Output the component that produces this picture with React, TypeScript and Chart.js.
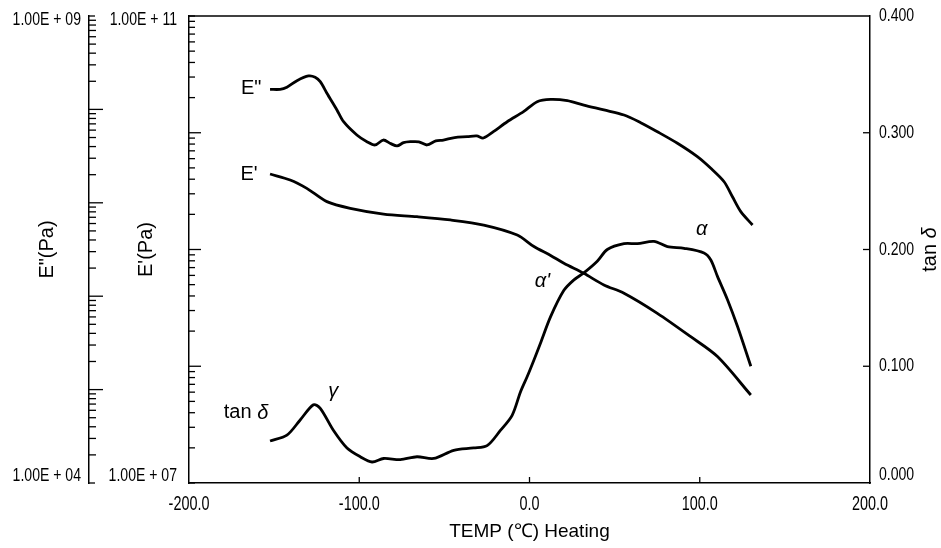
import React, { useEffect, useRef } from "react";
import { Chart, registerables } from "chart.js";

Chart.register(...registerables);

// ---- axis ticks ----
const tempTicks = [-200, -100, 0, 100, 200];
const tanTicks = [0, 0.1, 0.2, 0.3, 0.4];
const ePrimeDecades = [1e7, 1e8, 1e9, 1e10, 1e11];
const eDoubleDecades = [1e4, 1e5, 1e6, 1e7, 1e8, 1e9];

// ---- E'' (loss modulus, Pa) ----
const eDoubleTemp = [
  -152.4, -146.5, -142.5, -136.6, -129.8, -125.9, -122.9, -119.0, -113.1, -109.2,
  -101.4, -95.5, -90.6, -85.9, -81.5, -77.8, -74.0, -70.0, -65.0, -60.2,
  -55.0, -50.6, -44.0, -36.6, -31.0, -27.1, -21.2, -13.1, -3.5, 4.5,
  12.4, 22.2, 31.9, 43.7, 55.5, 65.3, 75.1, 86.9, 98.6, 106.5,
  114.3, 119.2, 124.1, 131.0,
];
const eDoubleVal = [
  1.64e8, 1.64e8, 1.73e8, 2.03e8, 2.28e8, 2.21e8, 1.98e8, 1.49e8, 9.86e7, 7.38e7,
  5.32e7, 4.51e7, 4.16e7, 4.7e7, 4.3e7, 4.06e7, 4.4e7, 4.51e7, 4.5e7, 4.16e7,
  4.6e7, 4.7e7, 5.0e7, 5.1e7, 5.2e7, 4.94e7, 5.77e7, 7.38e7, 9.45e7, 1.21e8,
  1.28e8, 1.24e8, 1.11e8, 9.86e7, 8.71e7, 7.21e7, 5.77e7, 4.34e7, 3.12e7, 2.34e7,
  1.68e7, 1.16e7, 8.04e6, 5.78e6,
];

// ---- E' (storage modulus, Pa) ----
const ePrimeTemp = [
  -152.4, -140.6, -130.8, -119.0, -105.3, -85.7, -66.1, -46.5, -26.9, -7.2,
  2.6, 12.4, 20.2, 31.9, 43.7, 55.5, 75.1, 94.7, 110.4, 130.0,
];
const ePrimeVal = [
  4.43e9, 3.94e9, 3.34e9, 2.57e9, 2.25e9, 2.01e9, 1.91e9, 1.79e9, 1.62e9, 1.33e9,
  1.06e9, 8.9e8, 7.62e8, 6.25e8, 4.97e8, 4.22e8, 2.84e8, 1.79e8, 1.21e8, 5.67e7,
];

// ---- tan delta ----
const tanTemp = [
  -152.4, -142.5, -134.7, -126.9, -122.9, -115.1, -107.2, -99.4, -92.5, -85.7,
  -75.9, -66.1, -56.3, -44.5, -32.8, -24.9, -17.1, -10.2, -5.3, -1.4,
  2.5, 6.5, 12.4, 20.2, 26.1, 31.9, 39.8, 45.7, 55.5, 63.4,
  73.1, 81.0, 90.8, 102.5, 106.5, 110.4, 116.3, 122.2, 130.0,
];
const tanVal = [
  0.036, 0.041, 0.054, 0.067, 0.064, 0.045, 0.03, 0.0225, 0.018, 0.021,
  0.02, 0.0225, 0.021, 0.028, 0.03, 0.032, 0.045, 0.058, 0.078, 0.091,
  0.105, 0.12, 0.1425, 0.165, 0.174, 0.18, 0.19, 0.2, 0.205, 0.205,
  0.207, 0.2025, 0.201, 0.197, 0.191, 0.177, 0.157, 0.134, 0.1,
];

// ---- curve labels (data coordinates) ----
const curveLabels = [
  { text: 'E"', t: -163.5, axis: "yE2", v: 1.69e8, italic: false },
  { text: "E'", t: -164.7, axis: "yE1", v: 4.4e9, italic: false },
  { text: "γ", t: -115.3, axis: "yT", v: 0.078, italic: true },
  { text: "α", t: 101.2, axis: "yT", v: 0.217, italic: true },
  { text: "α'", t: 7.6, axis: "yT", v: 0.173, italic: true },
];
const tanLabel = { t: -166.5, v: 0.06 };

const SANS = "'Liberation Sans', Arial, sans-serif";
const INK = "#000";

const pts = (t: number[], v: number[]) => t.map((x, i) => ({ x, y: v[i] }));
const fmtE = (v: number) => {
  const e = Math.round(Math.log10(v));
  return `1.00E + ${String(e).padStart(2, "0")}`;
};

const decorPlugin = {
  id: "decor",
  afterDraw(chart: any) {
    const { ctx, chartArea: a, scales } = chart;
    const { x, yE1, yE2, yT } = scales;
    const line = (x1: number, y1: number, x2: number, y2: number) => {
      ctx.beginPath();
      ctx.moveTo(x1, y1);
      ctx.lineTo(x2, y2);
      ctx.stroke();
    };
    // condensed tick text
    const ctext = (s: string, px: number, py: number, align: string, size: number, sx: number) => {
      ctx.save();
      ctx.translate(px, py);
      ctx.scale(sx, 1);
      ctx.font = `${size}px ${SANS}`;
      ctx.textAlign = align;
      ctx.textBaseline = "middle";
      ctx.fillText(s, 0, 0);
      ctx.restore();
    };
    ctx.save();
    ctx.strokeStyle = INK;
    ctx.fillStyle = INK;
    ctx.lineWidth = 1.3;
    // top frame
    line(a.left, a.top, a.right, a.top);
    // inward x ticks
    tempTicks.slice(1, -1).forEach((v) => {
      const px = x.getPixelForValue(v);
      line(px, a.bottom, px, a.bottom - 6);
    });
    // inward right ticks
    tanTicks.slice(1, -1).forEach((v) => {
      const py = yT.getPixelForValue(v);
      line(a.right, py, a.right - 7, py);
    });
    // log ticks
    const logTicks = (scale: any, decades: number[], major: number, minor: number) => {
      const x0 = scale.right;
      decades.forEach((d, i) => {
        const py = scale.getPixelForValue(d);
        const len = i === 0 || i === decades.length - 1 ? 6 : major;
        line(x0, py, x0 + len, py);
        if (i < decades.length - 1) {
          for (let k = 2; k <= 9; k++) {
            const pk = scale.getPixelForValue(d * k);
            line(x0, pk, x0 + minor, pk);
          }
        }
      });
    };
    logTicks(yE1, ePrimeDecades, 12, 6);
    logTicks(yE2, eDoubleDecades, 14, 7);

    // tick labels
    tempTicks.forEach((v) => {
      ctext(v.toFixed(1), x.getPixelForValue(v), a.bottom + 21, "center", 20, 0.72);
    });
    tanTicks.forEach((v, i) => {
      const py = yT.getPixelForValue(v) - (i === 0 ? 8 : 0);
      ctext(v.toFixed(3), a.right + 9, py, "left", 19, 0.74);
    });
    const endLabels = (scale: any, decades: number[], pad: number) => {
      const lo = decades[0];
      const hi = decades[decades.length - 1];
      ctext(fmtE(hi), scale.right - pad, scale.getPixelForValue(hi) + 4, "right", 19, 0.74);
      ctext(fmtE(lo), scale.right - pad, scale.getPixelForValue(lo) - 7.5, "right", 19, 0.74);
    };
    endLabels(yE1, ePrimeDecades, 12);
    endLabels(yE2, eDoubleDecades, 8);

    // curve labels
    ctx.textAlign = "center";
    ctx.textBaseline = "middle";
    curveLabels.forEach((l) => {
      ctx.font = `${l.italic ? "italic " : ""}20px ${SANS}`;
      ctx.fillText(l.text, x.getPixelForValue(l.t), scales[l.axis].getPixelForValue(l.v));
    });
    // "tan δ" label
    const drawTan = (cx: number, cy: number) => {
      ctx.font = `20px ${SANS}`;
      const w1 = ctx.measureText("tan ").width;
      ctx.font = `italic 20px ${SANS}`;
      const w2 = ctx.measureText("δ").width;
      const start = cx - (w1 + w2) / 2;
      ctx.textAlign = "left";
      ctx.textBaseline = "middle";
      ctx.font = `20px ${SANS}`;
      ctx.fillText("tan ", start, cy);
      ctx.font = `italic 20px ${SANS}`;
      ctx.fillText("δ", start + w1, cy);
    };
    drawTan(x.getPixelForValue(tanLabel.t), yT.getPixelForValue(tanLabel.v));
    // right axis title, rotated to read bottom-to-top
    ctx.save();
    ctx.translate(yT.right - 11, (a.top + a.bottom) / 2);
    ctx.rotate(-Math.PI / 2);
    drawTan(0, 0);
    ctx.restore();
    ctx.restore();
  },
};

export default function App() {
  const ref = useRef<HTMLCanvasElement | null>(null);
  useEffect(() => {
    if (!ref.current) return;
    const lineDs = (data: any, axis: string) => ({
      data,
      yAxisID: axis,
      borderColor: INK,
      backgroundColor: INK,
      borderWidth: 2.8,
      pointRadius: 0,
      tension: 0.3,
      fill: false,
    });
    const border = { display: true, color: INK, width: 1.5 };
    const chart = new Chart(ref.current, {
      type: "line",
      data: {
        datasets: [
          lineDs(pts(eDoubleTemp, eDoubleVal), "yE2"),
          lineDs(pts(ePrimeTemp, ePrimeVal), "yE1"),
          lineDs(pts(tanTemp, tanVal), "yT"),
        ],
      },
      plugins: [decorPlugin],
      options: {
        animation: false,
        responsive: false,
        devicePixelRatio: 1,
        layout: { padding: { top: 16, left: 0, right: 0, bottom: 0 } },
        plugins: { legend: { display: false }, tooltip: { enabled: false } },
        scales: {
          x: {
            type: "linear",
            min: -200,
            max: 200,
            afterBuildTicks: (s: any) => {
              s.ticks = tempTicks.map((value) => ({ value }));
            },
            afterFit: (s: any) => {
              s.height = 65;
            },
            grid: { display: false },
            border,
            ticks: { display: false },
            title: {
              display: true,
              text: "TEMP (℃) Heating",
              color: INK,
              font: { family: SANS, size: 19 },
              padding: { top: 0, bottom: 5 },
            },
          },
          yE2: {
            type: "logarithmic",
            position: "left",
            weight: 10,
            min: 1e4,
            max: 1e9,
            afterBuildTicks: (s: any) => {
              s.ticks = eDoubleDecades.map((value) => ({ value }));
            },
            afterFit: (s: any) => {
              s.width = 89;
            },
            grid: { display: false },
            border,
            ticks: { display: false },
            title: {
              display: true,
              text: 'E"(Pa)',
              color: INK,
              font: { family: SANS, size: 20 },
              padding: { top: 35, bottom: 0 },
            },
          },
          yE1: {
            type: "logarithmic",
            position: "left",
            weight: 0,
            min: 1e7,
            max: 1e11,
            afterBuildTicks: (s: any) => {
              s.ticks = ePrimeDecades.map((value) => ({ value }));
            },
            afterFit: (s: any) => {
              s.width = 100;
            },
            grid: { display: false },
            border,
            ticks: { display: false },
            title: {
              display: true,
              text: "E'(Pa)",
              color: INK,
              font: { family: SANS, size: 20 },
              padding: { top: 45, bottom: 0 },
            },
          },
          yT: {
            type: "linear",
            position: "right",
            min: 0,
            max: 0.4,
            afterBuildTicks: (s: any) => {
              s.ticks = tanTicks.map((value) => ({ value }));
            },
            afterFit: (s: any) => {
              s.width = 71;
            },
            grid: { display: false },
            border,
            ticks: { display: false },
            title: { display: false },
          },
        },
      },
    } as any);
    return () => chart.destroy();
  }, []);
  return (
    <div style={{ position: "absolute", left: 0, top: 0, width: 941, height: 548, background: "#fff" }}>
      <canvas ref={ref} width={941} height={548} style={{ display: "block" }} />
    </div>
  );
}
